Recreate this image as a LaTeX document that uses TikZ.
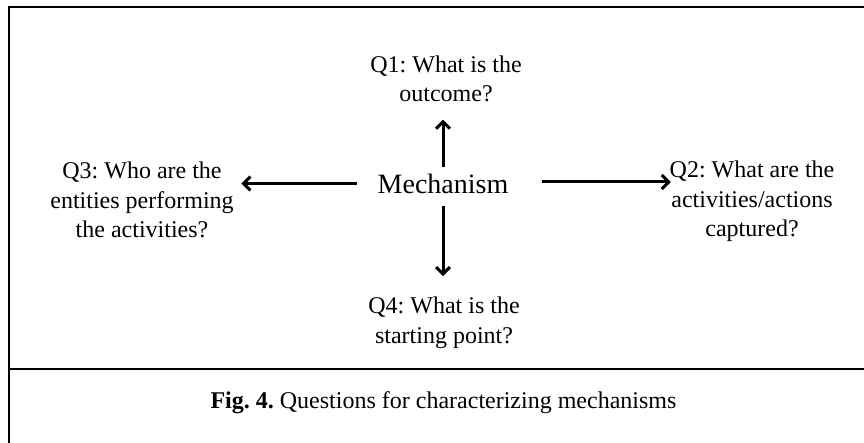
\documentclass[tikz,border=0pt]{standalone}
\usepackage{fontspec}
\setmainfont{Liberation Serif}
\usetikzlibrary{arrows.meta}
\frenchspacing
\begin{document}
\begin{tikzpicture}[x=1pt,y=-1pt,
  qtext/.style={font=\fontsize{24}{29.5}\selectfont, align=center, inner sep=0pt, anchor=base},
  arr/.style={line width=3pt, -{Straight Barb[length=7pt,width=14pt,line width=3pt]}},
  frameline/.style={line width=2.2pt}]
\useasboundingbox (0,0) rectangle (864,443);
\draw[frameline] (9,443) -- (9,7) -- (864,7);
\draw[line width=1.5pt] (9,369) -- (864,369);
\node[font=\fontsize{28}{34}\selectfont, inner sep=0pt] (mech) at (443,183.5) {Mechanism};
\node[qtext] (q1) at (446,102) {Q1: What is the\\outcome?};
\node[qtext] (q2) at (752,237) {Q2: What are the\\activities/actions\\captured?};
\node[qtext] (q3) at (142,238) {Q3: Who are the\\entities performing\\the activities?};
\node[qtext] (q4) at (444,343) {Q4: What is the\\starting point?};
\node[font=\fontsize{24}{29}\selectfont, inner sep=0pt, anchor=base] (cap) at (443.5,408) {\textbf{Fig. 4.} Questions for characterizing mechanisms};
\draw[arr, shorten <=6pt, shorten >=17pt] (mech.north) -- (mech.north |- q1.south);
\draw[arr, shorten <=12pt, shorten >=20.5pt] (mech.south) -- (mech.south |- q4.north);
\draw[arr, shorten <=20.5pt, shorten >=7.5pt] (mech.west) -- (mech.west -| q3.east);
\draw[arr, shorten <=33.5pt, shorten >=-1.3pt] ([yshift=1.5pt]mech.east) -- ([yshift=1.5pt]mech.east -| q2.west);
\end{tikzpicture}
\end{document}
